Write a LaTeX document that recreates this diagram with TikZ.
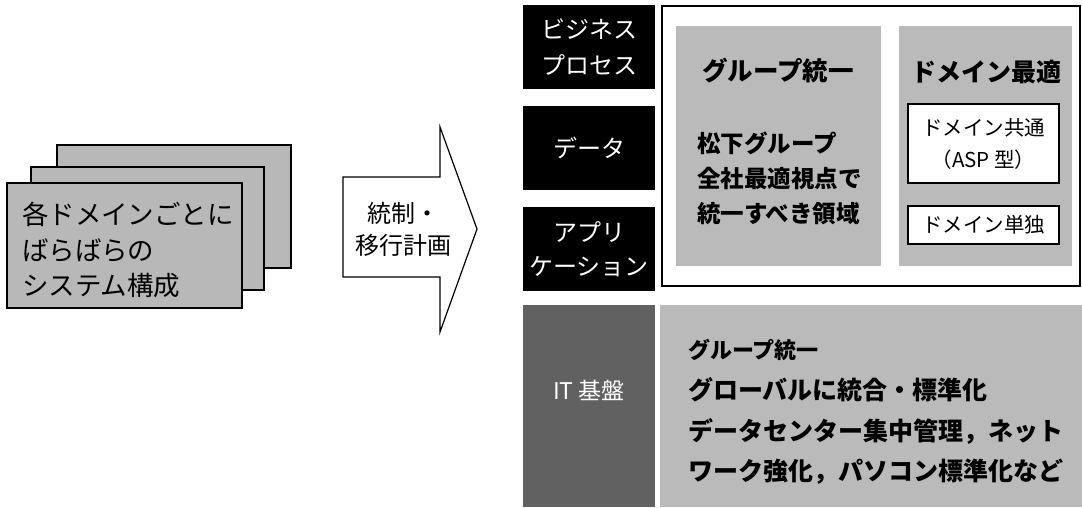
\documentclass[tikz,border=0pt]{standalone}
\usepackage{fontspec}
\setmainfont{Noto Sans CJK JP}
\begin{document}
\begin{tikzpicture}[x=1pt,y=-1pt,
  box/.style={inner sep=0pt,outer sep=0pt,anchor=north west},
  card/.style={box,draw=black,line width=1.4pt,fill=black!28},
  blk/.style={box,fill=black},
  lgray/.style={box,fill=black!27},
  dgray/.style={box,fill=black!62},
  wbox/.style={box,draw=black,line width=1.2pt,fill=white},
  frame/.style={box,draw=black,line width=1.2pt,fill=white},
  txt/.style={inner sep=0pt,outer sep=0pt}]
\useasboundingbox (0,0) rectangle (1082,507);
% left stacked cards
\node[card,minimum width=234pt,minimum height=123pt] (back) at (57,145) {};
\node[card,minimum width=233pt,minimum height=123pt] (mid) at (31,167) {};
\node[card,minimum width=235pt,minimum height=125pt] (front) at (7,183) {};
\node[txt,anchor=west,align=left,font=\fontsize{26.5}{35.5}\selectfont] (ltext) at (22,250) {各ドメインごとに\\ばらばらの\\システム構成};
% big arrow
\draw[line width=1.2pt,fill=white,line join=miter] (343,177) -- (440,177) -- (440,127) -- (477,229) -- (440,332) -- (440,277) -- (343,277) -- cycle;
\node[txt,align=center,font=\fontsize{24}{32}\selectfont] (plan) at (403,229) {統制・\\移行計画};
% black label boxes
\node[blk,minimum width=132pt,minimum height=84pt] (bp) at (523,5) {};
\node[blk,minimum width=132pt,minimum height=84pt] (dt) at (523,106) {};
\node[blk,minimum width=132pt,minimum height=84pt] (ap) at (523,207) {};
\node[txt,text=white,align=center,font=\fontsize{24}{36}\selectfont] at (bp.center) {ビジネス\\プロセス};
\node[txt,text=white,font=\fontsize{24}{36}\selectfont] at (dt.center) {データ};
\node[txt,text=white,align=center,font=\fontsize{24}{34}\selectfont] at (ap.center) {アプリ\\ケーション};
% frame
\node[frame,minimum width=418pt,minimum height=280pt] (fr) at (662,6) {};
\node[lgray,minimum width=205pt,minimum height=240pt] (g1) at (676,26) {};
\node[lgray,minimum width=173pt,minimum height=240pt] (g2) at (899,26) {};
\node[txt,font=\bfseries\fontsize{25.5}{30}\selectfont] (h1) at (778,71) {グループ統一};
\node[txt,anchor=west,align=left,font=\bfseries\fontsize{23.5}{35}\selectfont] (b1) at (697,178) {松下グループ\\全社最適視点で\\統一すべき領域};
\node[txt,font=\bfseries\fontsize{25}{30}\selectfont] (h2) at (986,72) {ドメイン最適};
\node[wbox,minimum width=151pt,minimum height=79pt] (w1) at (908,104) {};
\node[wbox,minimum width=151pt,minimum height=38pt] (w2) at (908,206) {};
\node[txt,align=center,font=\fontsize{20.5}{32}\selectfont] at (w1.center) {ドメイン共通\\（ASP 型）};
\node[txt,font=\fontsize{20.5}{26}\selectfont] at (w2.center) {ドメイン単独};
% IT infrastructure
\node[dgray,minimum width=132pt,minimum height=202pt] (it) at (523,305) {};
\node[txt,text=white,font=\fontsize{23}{28}\selectfont] at (589,390) {IT 基盤};
\node[lgray,minimum width=422pt,minimum height=202pt] (g3) at (660,305) {};
\node[txt,anchor=west,font=\bfseries\fontsize{22}{28}\selectfont] (h3) at (688,350) {グループ統一};
\node[txt,anchor=west,align=left,font=\bfseries\fontsize{25}{40.5}\selectfont] (b3) at (688,431) {グローバルに統合・標準化\\データセンター集中管理，ネット\\ワーク強化，パソコン標準化など};
\end{tikzpicture}
\end{document}
